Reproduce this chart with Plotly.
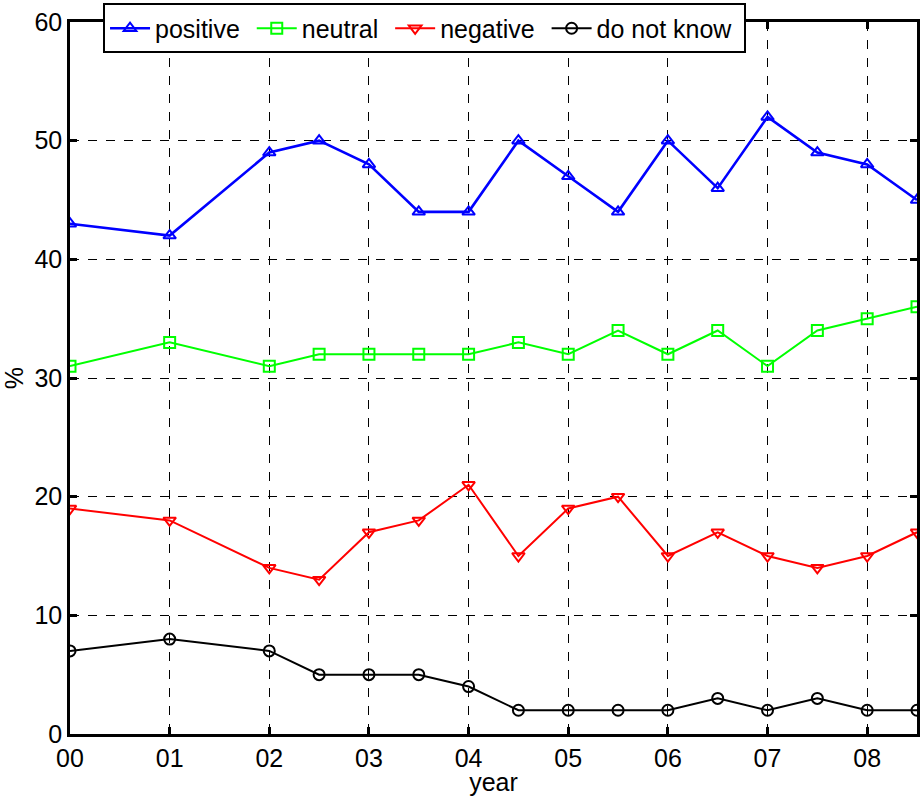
import plotly.graph_objects as go

years = [0, 1, 2, 2.5, 3, 3.5, 4, 4.5, 5, 5.5, 6, 6.5, 7, 7.5, 8, 8.5]
positive = [43, 42, 49, 50, 48, 44, 44, 50, 47, 44, 50, 46, 52, 49, 48, 45]
neutral = [31, 33, 31, 32, 32, 32, 32, 33, 32, 34, 32, 34, 31, 34, 35, 36]
negative = [19, 18, 14, 13, 17, 18, 21, 15, 19, 20, 15, 17, 15, 14, 15, 17]
dont_know = [7, 8, 7, 5, 5, 5, 4, 2, 2, 2, 2, 3, 2, 3, 2, 2]
tick_vals = [0, 1, 2, 3, 4, 5, 6, 7, 8]
tick_text = ["00", "01", "02", "03", "04", "05", "06", "07", "08"]

series = [
    ("positive", positive, "#0000FF", "triangle-up-open", 2.6),
    ("neutral", neutral, "#00FF00", "square-open", 2),
    ("negative", negative, "#FF0000", "triangle-down-open", 2),
    ("do not know", dont_know, "#000000", "circle-open", 2),
]

pad = "\u00a0"
fig = go.Figure()
for name, vals, col, sym, w in series:
    fig.add_trace(go.Scatter(
        x=years, y=vals, name=name + pad, mode="lines+markers",
        line=dict(color=col, width=w),
        marker=dict(symbol=sym, size=11, color=col, line=dict(width=2, color=col)),
    ))

axis_common = dict(
    showline=True, linecolor="black", linewidth=2.5, mirror="ticks",
    ticks="inside", ticklen=7, tickwidth=2.5, tickcolor="black",
    showgrid=True, gridcolor="black", gridwidth=1, griddash="dash",
    zeroline=False, tickfont=dict(size=25, color="black"),
)

fig.update_xaxes(range=[0, 8.5], tickvals=tick_vals, ticktext=tick_text,
                 title=dict(text="year", font=dict(size=25, color="black"), standoff=0),
                 **axis_common)
fig.update_yaxes(range=[0, 60], dtick=10,
                 title=dict(text="%", font=dict(size=25, color="black"), standoff=8),
                 **axis_common)

fig.update_layout(
    width=923, height=796,
    margin=dict(l=70, r=3, t=22, b=62),
    plot_bgcolor="white", paper_bgcolor="white",
    font=dict(family="Liberation Sans, Arial, sans-serif", size=25, color="black"),
    legend=dict(orientation="h", x=0.039, y=1.026, xanchor="left", yanchor="top",
                bgcolor="white", bordercolor="black", borderwidth=2,
                font=dict(size=25), itemwidth=40, tracegroupgap=0),
)

fig.write_html("out.html", config={"displayModeBar": False},
               post_script="document.body.style.margin='0';document.body.style.overflow='hidden';")
